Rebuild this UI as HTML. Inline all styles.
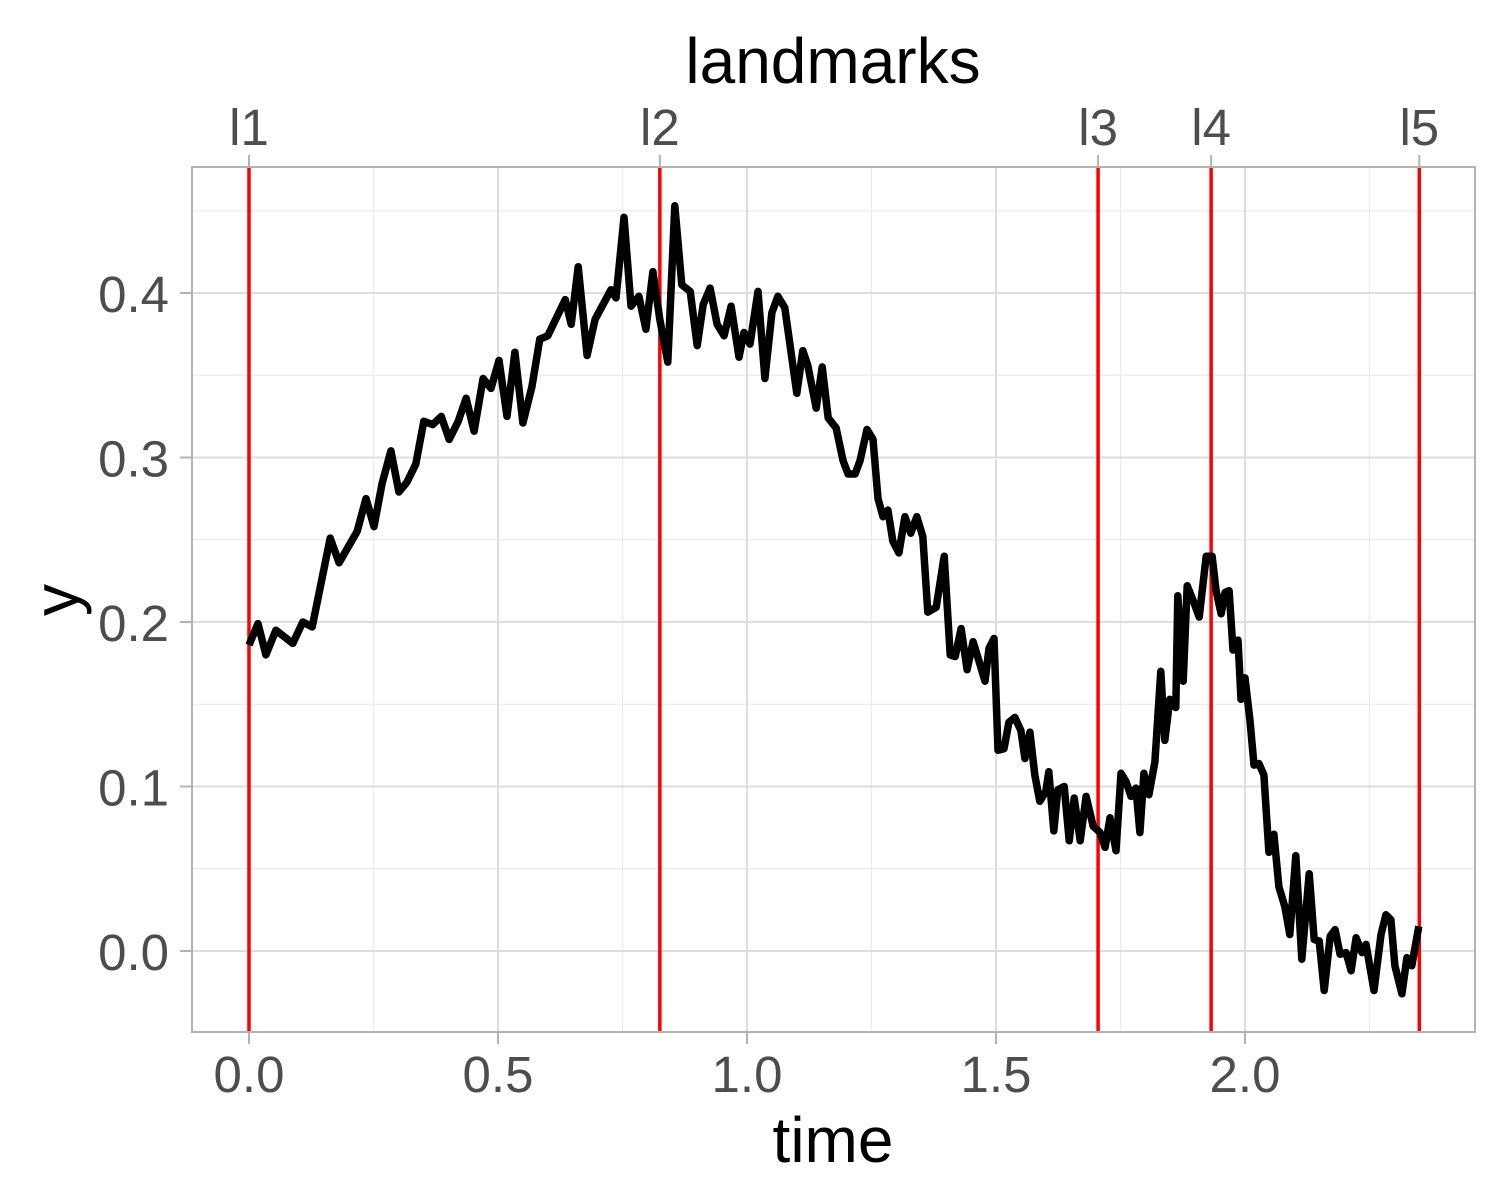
<!DOCTYPE html>
<html><head><meta charset="utf-8"><style>
html,body{margin:0;padding:0;background:#fff;}
svg{display:block;font-family:"Liberation Sans",Arial,sans-serif;}
</style></head><body>
<svg id="chart" width="1500" height="1200" xmlns="http://www.w3.org/2000/svg">
<g id="grid"></g>
<g id="lm"></g>
<g id="series"></g>
<rect x="192" y="167" width="1283" height="865" fill="none" stroke="#b3b3b3" stroke-width="2"/>
<g id="axes"></g>
<text x="833" y="83" font-size="64" text-anchor="middle" fill="#000">landmarks</text>
<text x="833" y="1162" font-size="64" text-anchor="middle" fill="#000">time</text>
<text x="0" y="0" font-size="64" text-anchor="middle" fill="#000" transform="translate(78,600) rotate(-90)">y</text>
</svg>
<script>
const times=[0,0.018,0.034,0.054,0.088,0.108,0.127,0.163,0.181,0.217,0.235,0.251,0.267,0.285,0.301,0.317,0.335,0.351,0.369,0.386,0.402,0.420,0.436,0.452,0.470,0.486,0.502,0.518,0.534,0.550,0.568,0.584,0.600,0.635,0.647,0.661,0.679,0.695,0.727,0.737,0.753,0.767,0.783,0.797,0.811,0.825,0.841,0.855,0.869,0.886,0.900,0.912,0.926,0.940,0.954,0.968,0.984,0.994,1.006,1.022,1.036,1.050,1.062,1.076,1.100,1.112,1.122,1.139,1.151,1.163,1.179,1.193,1.203,1.217,1.227,1.241,1.253,1.263,1.273,1.283,1.293,1.305,1.317,1.329,1.341,1.353,1.363,1.380,1.396,1.408,1.418,1.430,1.442,1.454,1.466,1.478,1.486,1.496,1.504,1.516,1.526,1.538,1.550,1.558,1.568,1.578,1.588,1.600,1.606,1.616,1.624,1.637,1.647,1.657,1.669,1.681,1.695,1.709,1.719,1.729,1.741,1.751,1.761,1.771,1.781,1.789,1.797,1.807,1.819,1.831,1.839,1.849,1.861,1.865,1.876,1.884,1.896,1.908,1.922,1.934,1.942,1.952,1.960,1.968,1.976,1.986,1.992,2.000,2.010,2.018,2.028,2.038,2.048,2.058,2.068,2.080,2.090,2.102,2.114,2.129,2.139,2.149,2.159,2.171,2.181,2.191,2.203,2.213,2.223,2.235,2.243,2.259,2.273,2.283,2.293,2.301,2.315,2.325,2.335,2.349];
const values=[0.186,0.199,0.180,0.195,0.187,0.200,0.197,0.251,0.236,0.255,0.275,0.258,0.284,0.304,0.279,0.285,0.296,0.322,0.320,0.325,0.311,0.322,0.336,0.316,0.348,0.342,0.359,0.325,0.364,0.321,0.343,0.372,0.374,0.396,0.381,0.416,0.362,0.384,0.402,0.397,0.446,0.392,0.398,0.378,0.413,0.384,0.358,0.453,0.405,0.401,0.368,0.393,0.403,0.381,0.374,0.392,0.361,0.376,0.369,0.401,0.348,0.388,0.398,0.391,0.339,0.365,0.356,0.330,0.355,0.324,0.318,0.298,0.290,0.290,0.298,0.317,0.311,0.275,0.264,0.268,0.249,0.242,0.264,0.254,0.264,0.252,0.206,0.209,0.240,0.180,0.179,0.196,0.171,0.188,0.176,0.164,0.184,0.190,0.122,0.123,0.139,0.142,0.134,0.117,0.133,0.107,0.091,0.097,0.109,0.073,0.098,0.100,0.067,0.093,0.067,0.094,0.076,0.072,0.063,0.081,0.061,0.108,0.103,0.094,0.099,0.072,0.108,0.095,0.115,0.170,0.128,0.153,0.148,0.216,0.164,0.222,0.213,0.203,0.240,0.240,0.219,0.205,0.218,0.219,0.183,0.189,0.153,0.166,0.140,0.113,0.114,0.107,0.060,0.071,0.039,0.027,0.010,0.058,-0.005,0.047,0.007,0.006,-0.024,0.009,0.013,-0.002,-0.001,-0.012,0.008,-0.001,0.004,-0.024,0.010,0.022,0.019,-0.009,-0.026,-0.004,-0.009,0.015];
const xTicks=[0,0.5,1.0,1.5,2.0];
const xTickLabels=["0.0","0.5","1.0","1.5","2.0"];
const yTicks=[0,0.1,0.2,0.3,0.4];
const yTickLabels=["0.0","0.1","0.2","0.3","0.4"];
const landmarkTimes=[0,0.825,1.705,1.932,2.35];
const landmarkLabels=["l1","l2","l3","l4","l5"];

const NS="http://www.w3.org/2000/svg";
const X0=192,X1=1475,Y0=167,Y1=1032;
function xs(t){return 249+t*498;}
function ys(v){return 951-v*1645;}
function mk(tag,attrs,parent){const e=document.createElementNS(NS,tag);for(const k in attrs)e.setAttribute(k,attrs[k]);parent.appendChild(e);return e;}
const grid=document.getElementById('grid'),axes=document.getElementById('axes'),lm=document.getElementById('lm'),ser=document.getElementById('series');
mk('rect',{x:X0,y:Y0,width:X1-X0,height:Y1-Y0,fill:'#fff'},grid);
for(let i=0;i<xTicks.length;i++){
  const t=xTicks[i]+0.25;const x=xs(t);
  if(x<X1){const l=mk('line',{x1:x,x2:x,y1:Y0,y2:Y1,stroke:'#ebebeb','stroke-width':1.2},grid);
  
  }
}
for(let i=-1;i<yTicks.length;i++){
  const v=(i<0?-0.1:yTicks[i])+0.05;const y=ys(v);
  if(y>Y0&&y<Y1){const l=mk('line',{x1:X0,x2:X1,y1:y,y2:y,stroke:'#ebebeb','stroke-width':1.2},grid);
  
  }
}
for(let i=0;i<xTicks.length;i++){
  const x=xs(xTicks[i]);
  const l=mk('line',{x1:x,x2:x,y1:Y0,y2:Y1,stroke:'#dedede','stroke-width':2},grid);
  
  
  const tk=mk('line',{x1:x,x2:x,y1:Y1,y2:Y1+12,stroke:'#b3b3b3','stroke-width':2},axes);
  
  
  const tx=mk('text',{x:x,y:1092,'font-size':51,'text-anchor':'middle',fill:'#4d4d4d'},axes);
  tx.textContent=xTickLabels[i];
  
  
}
for(let i=0;i<yTicks.length;i++){
  const y=ys(yTicks[i]);
  const l=mk('line',{x1:X0,x2:X1,y1:y,y2:y,stroke:'#dedede','stroke-width':2},grid);
  
  
  const tk=mk('line',{x1:X0-12,x2:X0,y1:y,y2:y,stroke:'#b3b3b3','stroke-width':2},axes);
  
  
  const tx=mk('text',{x:169,y:y+19,'font-size':51,'text-anchor':'end',fill:'#4d4d4d'},axes);
  tx.textContent=yTickLabels[i];
  
  
}
for(let i=0;i<landmarkTimes.length;i++){
  const x=xs(landmarkTimes[i]);
  const l=mk('line',{x1:x,x2:x,y1:Y0,y2:Y1,stroke:'#ff0000','stroke-width':3.5},lm);
  
  
  const tk=mk('line',{x1:x,x2:x,y1:Y0-12,y2:Y0,stroke:'#b3b3b3','stroke-width':2},axes);
  
  
  const tx=mk('text',{x:x,y:145,'font-size':51,'text-anchor':'middle',fill:'#4d4d4d'},axes);
  tx.textContent=landmarkLabels[i];
  
  
}
let d='';
for(let i=0;i<times.length;i++){d+=(i?'L':'M')+xs(times[i]).toFixed(1)+','+ys(values[i]).toFixed(1);}
const p=mk('path',{d:d,fill:'none',stroke:'#000','stroke-width':7.5,'stroke-linejoin':'round','stroke-linecap':'butt'},ser);


</script>
</body></html>
